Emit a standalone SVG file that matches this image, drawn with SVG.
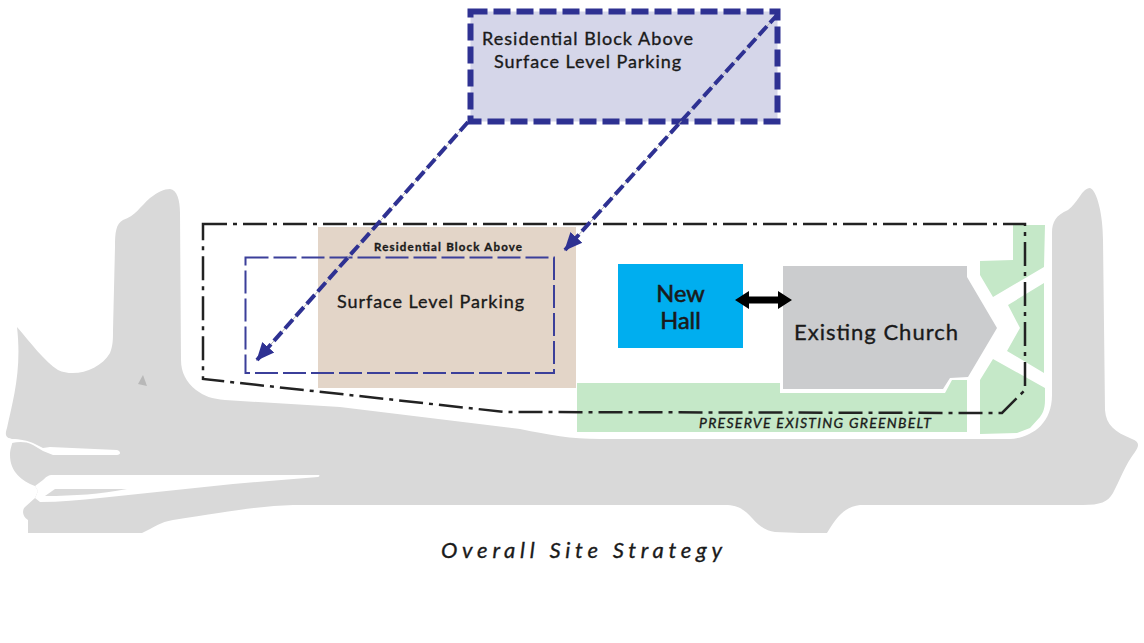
<svg xmlns="http://www.w3.org/2000/svg" width="1144" height="643" viewBox="0 0 1144 643">
<style>
text{font-family:"Lato","Liberation Sans",sans-serif;fill:#1a1a1a;stroke:#1a1a1a;stroke-width:.35}
.green{fill:#c5e8c8}
.slit{fill:#fff}
.arrow{fill:none;stroke:#2e3192;stroke-width:4;stroke-dasharray:12 4.500}
.guide{fill:none;stroke:#b5b5b5;stroke-width:1}
</style>
<defs>
<marker id="head" markerUnits="userSpaceOnUse" markerWidth="22" markerHeight="20" refX="17" refY="9" orient="auto"><path d="M0,1L18,9L0,17Z" fill="#2e3192"/></marker>
</defs>
<rect width="1144" height="643" fill="#fff"/>
<g id="site">
<path fill="#d9d9d9" d="M170,189C177,190 180,200 180,213L181,360C181,372 186,382 196,390C204,396 212,399 225,400L340,407L520,429C550,435 570,439 600,439L1010,439C1030,438 1052,425 1052,395L1052,233C1052,222 1056,215 1068,210C1078,203 1082,188 1090,188C1097,190 1103,215 1103,240L1105,410C1106,425 1115,432 1132,439C1140,442 1139,446 1135,452C1125,465 1120,480 1113,493C1108,502 1100,505 1083,505L860,505C845,507 838,515 827,533L800,533L775,532C765,530 760,527 752,518C745,510 738,505 725,505L340,505L293,505C260,506 230,511 173,520C160,522 155,527 142,533L90,533L28,533L28,520C22,516 22,510 25,507L35,498L38,491L35,486C22,481 10,472 10,455C10,447 14,442 12,439C5,438 5,434 7,428C13,400 22,370 17,327C30,342 45,362 58,370C75,378 100,370 110,353C113,345 113,340 113,330L115,247C115,232 116,224 123,220C135,216 140,207 150,198C158,192 164,189 170,189Z"/>
<path class="slit" d="M0,436L12,439C20,439 28,441 33,443L43,448L50,447L117,450C121,451 121,455 117,455L53,455L43,451L33,445C25,441 18,442 12,443L0,445Z"/>
<path class="slit" d="M318,475L53,475C48,475 46,477 43,480L35,486L38,491L35,498L40,502C60,502 80,500 100,498L233,484L318,477C320,476 320,475 318,475Z"/>
<path fill="#d9d9d9" d="M45,496L55,489L127,489C100,494 75,496 45,496Z"/>
<path fill="#b8b8b8" d="M143,375L138,384L147,386Z"/>
</g>
<g id="greenbelt">
<path class="green" d="M1013,225L1045,225L1044,267L993,297L980,275L980,261L1013,260Z"/>
<path class="green" d="M1044,283L1044,373L1007,351L1020,328L1008,305Z"/>
<path class="green" d="M993,359L1045,388L1045,400C1045,410 1042,414 1040,417L1030,428L1017,433L980,434L980,380Z"/>
<path class="green" d="M577,383L780,383L780,393L945,393L952,380L967,380L967,432L577,432Z"/>
<text x="699" y="428" font-size="14" font-style="italic" textLength="232">PRESERVE EXISTING GREENBELT</text>
</g>
<g id="parking">
<rect x="318" y="227" width="258" height="161" fill="#e3d5c8"/>
<text x="374" y="251" font-size="11.500" font-weight="700" textLength="148">Residential Block Above</text>
<text x="337" y="308" font-size="18" textLength="187">Surface Level Parking</text>
</g>
<g id="new-hall">
<rect x="618" y="264" width="125" height="84" fill="#00aeef"/>
<text x="680.500" y="302" font-size="23.500" text-anchor="middle" style="stroke-width:.6">New</text>
<text x="680.500" y="329" font-size="23.500" text-anchor="middle" style="stroke-width:.6">Hall</text>
</g>
<g id="church">
<path fill="#cbccce" d="M783,266L967,266L967,277L997,328L968,377L950,378L943,389L783,389Z"/>
<text x="794" y="340" font-size="22" textLength="164">Existing Church</text>
</g>
<g id="boundary">
<path fill="none" stroke="#222" stroke-width="2.500" stroke-dasharray="24 6 4 6" d="M203,224L1025,224L1025,390L1002,413L505,412L203,379Z"/>
</g>
<g id="footprint">
<rect x="245.500" y="257.500" width="308.500" height="115.500" fill="none" stroke="#3b3f9a" stroke-width="2" stroke-dasharray="23 5"/>
</g>
<g id="residential-block">
<rect x="470.500" y="11.500" width="307" height="110" fill="#d5d6e9" stroke="#2e3192" stroke-width="6" stroke-dasharray="17 6"/>
<text x="482" y="45" font-size="18" textLength="211">Residential Block Above</text>
<text x="494" y="68" font-size="18" textLength="187">Surface Level Parking</text>
</g>
<g id="connectors">
<path class="guide" d="M468,122L257,360"/>
<path class="guide" d="M778,14L565,250"/>
<path class="arrow" marker-end="url(#head)" d="M468,122L257,360"/>
<path class="arrow" marker-end="url(#head)" d="M778,14L565,250"/>
<path fill="#000" d="M735,300L749,291L749,296.500L778,296.500L778,291L792,300L778,309L778,303.500L749,303.500L749,309Z"/>
</g>
<text id="caption" x="441" y="558" font-size="22" font-style="italic" textLength="281">Overall Site Strategy</text>
</svg>
